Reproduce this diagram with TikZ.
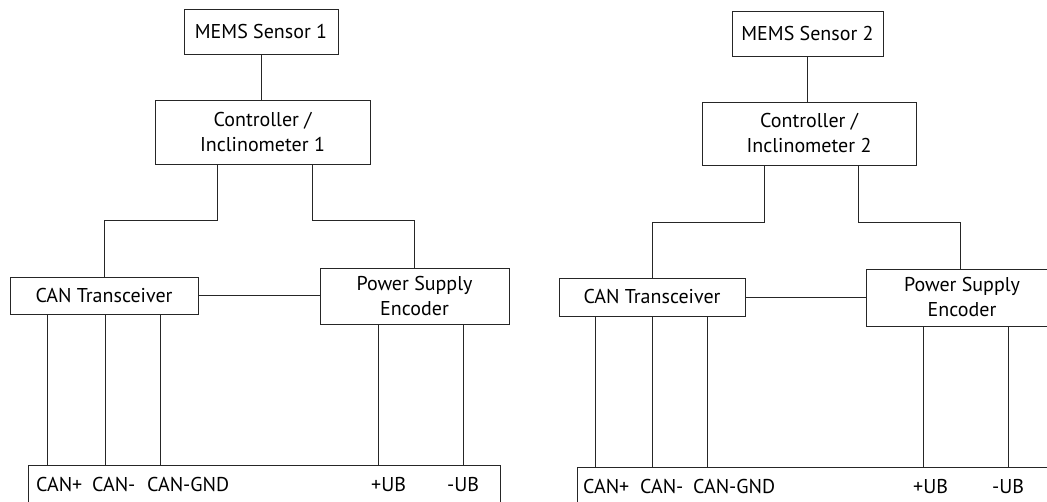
\documentclass[tikz,border=0pt]{standalone}
\usepackage{fontspec}
\setmainfont{PT Sans}
\usetikzlibrary{calc}
\tikzset{
  blk/.style={draw=black!85, line width=0.9pt, fill=white, inner sep=0pt, align=center,
    font=\fontsize{20}{25}\selectfont},
  wire/.style={draw=black!85, line width=0.9pt},
  lbl/.style={inner sep=0pt, anchor=base west, font=\fontsize{20}{25}\selectfont}
}
\begin{document}
\begin{tikzpicture}[x=1pt,y=-1pt]
\useasboundingbox (0,0) rectangle (1047,502);
\clip (0,0) rectangle (1047,502);
\fill[white] (0,0) rectangle (1047,502);

% ---------- left ----------
\node[blk, minimum width=154pt, minimum height=45pt] (mems1) at (261,31.5) {MEMS Sensor 1};
\node[blk, minimum width=215pt, minimum height=64pt] (ctrl1) at (262.5,132) {Controller /\\Inclinometer 1};
\node[blk, minimum width=188pt, minimum height=37pt] (can1) at (104,295.5) {CAN Transceiver};
\node[blk, minimum width=189pt, minimum height=56pt] (ps1) at (414.5,296) {Power Supply\\Encoder};
\node[blk, minimum width=472pt, minimum height=70pt, anchor=north west] (bus1) at (28,465) {};

\node[lbl] (l1a) at (36,491) {CAN+};
\node[lbl] (l1b) at (92,491) {CAN-};
\node[lbl] (l1c) at (147,491) {CAN-GND};
\node[lbl] (l1d) at (371,491) {+UB};
\node[lbl] (l1e) at (447,491) {-UB};

\draw[wire] (mems1.south) -- (mems1.south |- ctrl1.north);
\draw[wire] ([xshift=-45.5pt]ctrl1.south) -- ++(0,56) -| (can1.north);
\draw[wire] ([xshift=49.5pt]ctrl1.south) -- ++(0,56) -| (ps1.north);
\draw[wire] (can1.east) -- (can1.east -| ps1.west);
\draw[wire] ([xshift=-57pt]can1.south) -- ([xshift=-57pt]can1.south |- bus1.north);
\draw[wire] ([xshift=1pt]can1.south) -- ([xshift=1pt]can1.south |- bus1.north);
\draw[wire] ([xshift=56pt]can1.south) -- ([xshift=56pt]can1.south |- bus1.north);
\draw[wire] ([xshift=-36.5pt]ps1.south) -- ([xshift=-36.5pt]ps1.south |- bus1.north);
\draw[wire] ([xshift=48.5pt]ps1.south) -- ([xshift=48.5pt]ps1.south |- bus1.north);

% ---------- right ----------
\node[blk, minimum width=151pt, minimum height=45pt] (mems2) at (807.5,33.5) {MEMS Sensor 2};
\node[blk, minimum width=214pt, minimum height=63pt] (ctrl2) at (809,133.5) {Controller /\\Inclinometer 2};
\node[blk, minimum width=186pt, minimum height=38pt] (can2) at (652,297) {CAN Transceiver};
\node[blk, minimum width=192pt, minimum height=57pt] (ps2) at (962,297.5) {Power Supply\\Encoder};
\node[blk, minimum width=500pt, minimum height=70pt, anchor=north west] (bus2) at (577,467) {};

\node[lbl] (l2a) at (583,493) {CAN+};
\node[lbl] (l2b) at (640,493) {CAN-};
\node[lbl] (l2c) at (693,493) {CAN-GND};
\node[lbl] (l2d) at (913,493) {+UB};
\node[lbl] (l2e) at (992,493) {-UB};

\draw[wire] (mems2.south) -- (mems2.south |- ctrl2.north);
\draw[wire] ([xshift=-45pt]ctrl2.south) -- ++(0,57) -| (can2.north);
\draw[wire] ([xshift=49pt]ctrl2.south) -- ++(0,57) -| ([xshift=-2pt]ps2.north);
\draw[wire] (can2.east) -- (can2.east -| ps2.west);
\draw[wire] ([xshift=-57pt]can2.south) -- ([xshift=-57pt]can2.south |- bus2.north);
\draw[wire] (can2.south) -- (can2.south |- bus2.north);
\draw[wire] ([xshift=55pt]can2.south) -- ([xshift=55pt]can2.south |- bus2.north);
\draw[wire] ([xshift=-39pt]ps2.south) -- ([xshift=-39pt]ps2.south |- bus2.north);
\draw[wire] ([xshift=46pt]ps2.south) -- ([xshift=46pt]ps2.south |- bus2.north);
\end{tikzpicture}
\end{document}
